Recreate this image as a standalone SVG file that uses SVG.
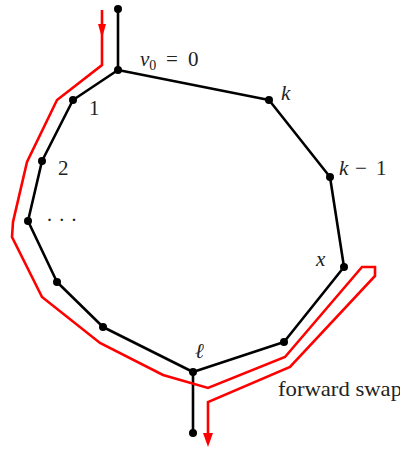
<svg xmlns="http://www.w3.org/2000/svg" width="400" height="450" viewBox="0 0 400 450">
<style>
.e{stroke:#000;stroke-width:2.6;fill:none;stroke-linecap:round;stroke-linejoin:round}
.r{stroke:#f00;stroke-width:2.6;fill:none;stroke-linejoin:miter}
.n{fill:#000}
text{font-family:"Liberation Serif","DejaVu Serif",serif;font-size:21px;fill:#222}
.i{font-style:italic}
</style>
<g id="connectors">
<path class="e" d="M118,9 L118,70 L73,100 L42,161 L28,221 L57,282 L103,327 L193,372 L284,342 L344,267 L330,177 L269,100 L118,70"/>
<path class="e" d="M193,372 L193,433"/>
<path class="r" d="M102,10 L102,65 L57,100 L27,162 L13,222 L12,237 L42,297 L100,343 L163,375 L208,388 L285,357 L362,267 L375,267 L375,276 L290,367 L208,402 L208,436"/>
<path d="M98,24 L106,24 L102,38 Z" fill="#f00"/>
<path d="M203,433 L213,433 L208,447 Z" fill="#f00"/>
</g>
<g id="nodes">
<g id="n-top"><circle class="n" cx="118" cy="9" r="4"/></g>
<g id="n-v0"><circle class="n" cx="118" cy="70" r="4"/><text x="140" y="66" class="i">v<tspan font-style="normal" font-size="14" dy="4">0</tspan><tspan font-style="normal" dy="-4" x="166">=</tspan><tspan font-style="normal" x="188">0</tspan></text></g>
<g id="n-1"><circle class="n" cx="73" cy="100" r="4"/><text x="89" y="115">1</text></g>
<g id="n-2"><circle class="n" cx="42" cy="161" r="4"/><text x="58" y="175">2</text></g>
<g id="n-dots"><circle class="n" cx="28" cy="221" r="4"/><text x="46" y="227">· · ·</text></g>
<g id="n-a"><circle class="n" cx="57" cy="282" r="4"/></g>
<g id="n-b"><circle class="n" cx="103" cy="327" r="4"/></g>
<g id="n-l"><circle class="n" cx="193" cy="372" r="4"/><text x="195" y="358" class="i">ℓ</text></g>
<g id="n-c"><circle class="n" cx="284" cy="342" r="4"/></g>
<g id="n-x"><circle class="n" cx="344" cy="267" r="4"/><text x="316" y="266" class="i">x</text></g>
<g id="n-k1"><circle class="n" cx="330" cy="177" r="4"/><text x="339" y="175"><tspan class="i">k</tspan><tspan x="355">−</tspan><tspan x="376">1</tspan></text></g>
<g id="n-k"><circle class="n" cx="269" cy="100" r="4"/><text x="281" y="100" class="i">k</text></g>
<g id="n-bot"><circle class="n" cx="193" cy="433" r="4"/></g>
</g>
<text x="278" y="396" textLength="124" lengthAdjust="spacingAndGlyphs">forward swap</text>
</svg>
